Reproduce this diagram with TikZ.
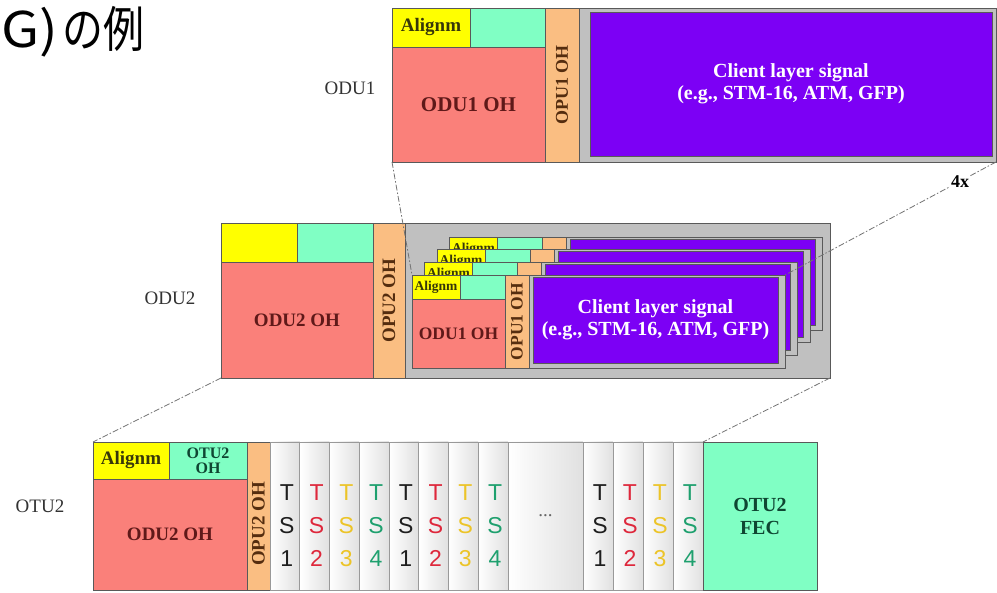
\documentclass[tikz,border=0pt]{standalone}
\usepackage{fontspec}
\setmainfont{Liberation Serif}
\newfontfamily\tsfont{Liberation Sans}
\newfontfamily\jpfont{Noto Sans CJK JP}
\usetikzlibrary{positioning,calc}

\definecolor{alyellow}{RGB}{255,255,0}
\definecolor{ohaqua}{RGB}{128,255,196}
\definecolor{ohpink}{RGB}{250,128,122}
\definecolor{opuorange}{RGB}{250,190,130}
\definecolor{clpurple}{RGB}{124,0,245}
\definecolor{frgray}{RGB}{192,192,192}
\definecolor{altext}{RGB}{55,55,10}
\definecolor{ohtext}{RGB}{95,25,25}
\definecolor{optext}{RGB}{85,45,15}
\definecolor{fectext}{RGB}{15,70,50}
\definecolor{tsc1}{RGB}{30,30,30}
\definecolor{tsc2}{RGB}{222,40,60}
\definecolor{tsc3}{RGB}{236,196,40}
\definecolor{tsc4}{RGB}{30,160,110}

\newcommand\fbig{\fontsize{20}{22}\selectfont}
\newcommand\fmid{\fontsize{19}{21}\selectfont}
\newcommand\fsub{\fontsize{17.5}{19}\selectfont}
\newcommand\fsmall{\fontsize{13.5}{15}\selectfont}

\newcommand\oduframe[3]{%
  \begin{scope}[shift={(#2,#3)}]
    \node[box, fill=frgray, minimum width=256, minimum height=93] (#1pl) at (117,0) {};
    \node[box, fill=clpurple, minimum width=245, minimum height=86] (#1cl) at (121,2) {};
    \node[box, fill=alyellow, minimum width=48, minimum height=24, font=\bfseries\fsmall, text=altext] (#1al) at (0,0) {Alignm};
    \node[box, fill=ohaqua, minimum width=45, minimum height=24] (#1aq) at (48,0) {};
    \node[box, fill=ohpink, minimum width=93, minimum height=69] (#1oh) at (0,24) {};
    \node[box, fill=opuorange, minimum width=24, minimum height=93] (#1op) at (93,0) {};
  \end{scope}}

\begin{document}
\begin{tikzpicture}[x=1pt, y=-1pt,
    box/.style={draw=black!65, line width=0.7pt, inner sep=0pt, outer sep=0pt, anchor=north west},
    tscol/.style={box, draw=black!40, left color=white, right color=black!12},
    tslbl/.style={font=\tsfont\fontsize{23}{33}\selectfont, align=center, inner sep=0pt},
    lbl/.style={font=\fmid, text=black!80},
    vtxt/.style={rotate=90, font=\bfseries\fmid, text=optext, inner sep=0pt},
    conn/.style={draw=black!55, line width=0.8pt, dash pattern=on 6pt off 2pt on 1.5pt off 2pt}]
  \path[use as bounding box, fill=white] (0,0) rectangle (997,593);

  \node[font=\jpfont\fontsize{41}{41}\selectfont, anchor=west, inner sep=0pt] (title) at (1,32) {\scalebox{1.35}[1.2]{G)}\kern4pt\scalebox{1}[1.2]{の例}};

  % ODU1
  \node[lbl] (lodu1) at (350,88) {ODU1};
  \node[box, fill=alyellow, minimum width=78, minimum height=39, font=\bfseries\fmid, text=altext] (alg1) at (392,8) {Alignm};
  \node[box, fill=ohaqua, minimum width=75, minimum height=39] (aq1) at (470,8) {};
  \node[box, fill=ohpink, minimum width=153, minimum height=115, font=\bfseries\fontsize{21}{23}\selectfont, text=ohtext] (oh1) at (392,47) {ODU1 OH};
  \node[box, fill=opuorange, minimum width=34, minimum height=154] (opu1) at (545,8) {};
  \node[vtxt, font=\bfseries\fontsize{18}{20}\selectfont] (opu1t) at (opu1.center) {OPU1 OH};
  \node[box, fill=frgray, minimum width=417, minimum height=154] (pl1) at (579,8) {};
  \node[box, fill=clpurple, minimum width=402, minimum height=144, align=center, text=white, font=\bfseries\fbig] (cl1) at (590,12) {Client layer signal\\(e.g., STM-16, ATM, GFP)};

  % ODU2
  \node[lbl] (lodu2) at (170,298) {ODU2};
  \node[box, fill=frgray, minimum width=425, minimum height=155] (pl2) at (405,223) {};
  \node[box, fill=alyellow, minimum width=76, minimum height=39] (alg2) at (221,223) {};
  \node[box, fill=ohaqua, minimum width=76, minimum height=39] (aq2) at (297,223) {};
  \node[box, fill=ohpink, minimum width=152, minimum height=116, font=\bfseries\fmid, text=ohtext] (oh2) at (221,262) {ODU2 OH};
  \node[box, fill=opuorange, minimum width=32, minimum height=155] (opu2) at (373,223) {};
  \node[vtxt] (opu2t) at (opu2.center) {OPU2 OH};
  \foreach \i/\nm in {3/odd,2/odc,1/odb}
    \oduframe{\nm}{412+12.5*\i}{275-12.7*\i};
  \oduframe{oda}{412}{275}
  \node[font=\bfseries\fsub, text=ohtext] (odaoht) at (odaoh.center) {ODU1 OH};
  \node[vtxt, font=\bfseries\fsub] (odaopt) at (odaop.center) {OPU1 OH};
  \node[align=center, text=white, font=\bfseries\fbig] (odaclt) at (odacl.center) {Client layer signal\\(e.g., STM-16, ATM, GFP)};

  % OTU2
  \node[lbl] (lotu2) at (40,506) {OTU2};
  \node[box, fill=alyellow, minimum width=76, minimum height=37, font=\bfseries\fmid, text=altext] (alg3) at (93,442) {Alignm};
  \node[box, fill=ohaqua, minimum width=78, minimum height=37, align=center, font=\bfseries\fontsize{16}{15}\selectfont, text=fectext] (aq3) at (169,442) {OTU2\\OH};
  \node[box, fill=ohpink, minimum width=154, minimum height=148-37, font=\bfseries\fmid, text=ohtext] (oh3) at (93,479) {ODU2 OH};
  \node[box, fill=opuorange, minimum width=23, minimum height=148] (opu3) at (247,442) {};
  \node[vtxt] (opu3t) at ($(opu3.center)+(0,8)$) {OPU2 OH};
  \foreach \c [count=\k] in {1,2,3,4,1,2,3,4} {
    \node[tscol, minimum width=29.75, minimum height=148] (tsa\k) at ({270+29.75*(\k-1)},442) {};
    \node[tslbl, text=tsc\c] (tsal\k) at ({272+29.75*(\k-0.5)},526) {T\\S\\\c};
  }
  \node[tscol, minimum width=75, minimum height=148, font=\fmid, text=black!60] (tsdots) at (508,442) {...};
  \foreach \c [count=\k] in {1,2,3,4} {
    \node[tscol, minimum width=30, minimum height=148] (tsb\k) at ({583+30*(\k-1)},442) {};
    \node[tslbl, text=tsc\c] (tsbl\k) at ({585+30*(\k-0.5)},526) {T\\S\\\c};
  }
  \node[box, fill=ohaqua, minimum width=114, minimum height=148, align=center, font=\bfseries\fontsize{20}{23}\selectfont, text=fectext] (fec) at (703,442) {OTU2\\FEC};

  \draw[conn] (oh1.south west) -- (odaal.north west);
  \draw[conn] (pl1.south east) -- node[pos=0.17, fill=white, inner sep=1pt, font=\bfseries\fontsize{18}{20}\selectfont] (mult) {4x} (odapl.north east);
  \draw[conn] (oh2.south west) -- (alg3.north west);
  \draw[conn] (pl2.south east) -- (fec.north west);
\end{tikzpicture}
\end{document}
